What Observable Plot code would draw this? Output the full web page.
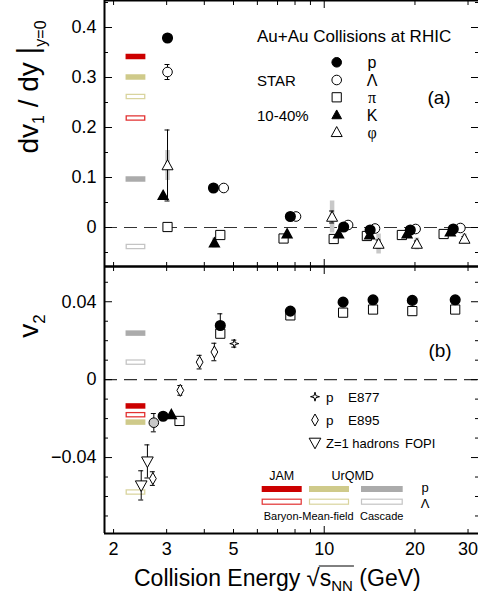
<!DOCTYPE html>
<html><head><meta charset="utf-8">
<script src="https://cdn.jsdelivr.net/npm/d3@7"></script>
<script src="https://cdn.jsdelivr.net/npm/@observablehq/plot@0.6"></script>
<style>
body{margin:0;background:#fff;}
#wrap{position:relative;width:478px;height:602px;overflow:hidden;background:#fff;}
#wrap svg{position:absolute;left:0;}
</style></head><body><div id="wrap"></div>
<script>
// ---------------- DATA ----------------
// Panel (a): dv1/dy at y=0, STAR 10-40%
const v1_p_x   = [3.02, 4.29, 7.72, 11.6, 14.2, 19.3, 26.8];
const v1_p_y   = [0.379, 0.079, 0.022, 0.001, -0.005, -0.005, -0.003];
const v1_L_x   = [3.02, 4.64, 8.06, 12.0, 14.74, 20.1, 28.3];
const v1_L_y   = [0.311, 0.079, 0.022, 0.005, -0.002, -0.003, -0.001];
const v1_L_err = [0.015, 0, 0, 0, 0, 0, 0];
const v1_pi_x  = [3.02, 4.52, 7.33, 10.75, 13.85, 18.1, 24.9];
const v1_pi_y  = [0.001, -0.015, -0.022, -0.023, -0.017, -0.015, -0.013];
const v1_K_x   = [2.92, 4.32, 7.53, 11.16, 14.15, 18.83, 26.2];
const v1_K_y   = [0.064, -0.031, -0.013, -0.013, -0.015, -0.013, -0.009];
const v1_K_sys = [0, 0.01, 0, 0, 0, 0, 0];
const v1_phi_x   = [3.02, 10.62, 15.15, 20.3, 29.2];
const v1_phi_y   = [0.124, 0.021, -0.033, -0.033, -0.023];
const v1_phi_err = [0.071, 0.012, 0.008, 0.006, 0.005];
const v1_phi_sys = [0.03, 0.032, 0.02, 0.012, 0.01];
// model values
const modelNames   = ["JAM p", "UrQMD p", "UrQMD Λ", "JAM Λ", "Cascade p", "Cascade Λ"];
const modelKind    = ["JAM", "UrQMD", "UrQMD", "JAM", "Cascade", "Cascade"];
const modelOpen    = [false, false, true, true, false, true];
const v1_model     = [0.342, 0.301, 0.262, 0.219, 0.097, -0.038];
const v2_model     = [-0.0135, -0.0218, -0.0577, -0.018, 0.0239, 0.009];

// Panel (b): v2
const v2_p_x   = [2.92, 4.52, 7.72, 11.55, 14.52, 19.6, 27.2];
const v2_p_y   = [-0.0188, 0.0278, 0.0352, 0.0398, 0.041, 0.0407, 0.041];
const v2_p_err = [0, 0.006, 0, 0, 0, 0, 0];
const v2_L_x   = [2.72];
const v2_L_y   = [-0.0221];
const v2_L_err = [0.0047];
const v2_K_x   = [3.11];
const v2_K_y   = [-0.018];
const v2_pi_x  = [3.31, 4.52, 7.72, 11.55, 14.52, 19.6, 27.2];
const v2_pi_y  = [-0.0212, 0.0236, 0.033, 0.0344, 0.036, 0.0352, 0.036];
const e877_x   = [5.03];
const e877_y   = [0.0185];
const e877_err = [0.0018];
const e895_x   = [2.70, 3.33, 3.86, 4.32];
const e895_y   = [-0.0508, -0.0055, 0.009, 0.0142];
const e895_err = [0.0035, 0.0025, 0.0035, 0.0045];
const fopi_x   = [2.47, 2.59];
const fopi_y   = [-0.0543, -0.042];
const fopi_err = [0.0075, 0.0085];

// ticks
const xTickSmall = [2, 3, 4, 5, 6, 7, 8, 9, 20, 30];
const xTickBig   = [10];
const xTickLabels = [2, 3, 5, 10, 20, 30];
const yTopMajor = [0, 0.1, 0.2, 0.3, 0.4];
const yTopMinor = [-0.05, 0.05, 0.15, 0.25, 0.35, 0.45];
const yBotMajor = [-0.04, 0, 0.04];
const yBotMinor = [-0.07, -0.06, -0.05, -0.03, -0.02, -0.01, 0.01, 0.02, 0.03, 0.05];

// ---------------- STYLE ----------------
const xDomain = [1.866, 32.5];
const modelSpan = [2.2, 2.56];
const fontFam = '"Liberation Sans", Arial, Helvetica, sans-serif';
const colors = {JAM: "#cc0000", UrQMD: "#cfca8a", Cascade: "#ababab"};
const openColors = {JAM: "#e23030", UrQMD: "#d9d49e", Cascade: "#c4c4c4"};
const sysGray = "#c8c8c8";

const rows = (xs, ys, es, ss) => xs.map((x, i) => ({x, y: ys[i], e: es ? es[i] : 0, s: ss ? ss[i] : 0}));
const mk = f => ({draw(ctx, size) { const r = Math.sqrt(size / Math.PI); f(ctx, r); }});
const symSquare = mk((c, r) => { c.moveTo(-r, -r); c.lineTo(r, -r); c.lineTo(r, r); c.lineTo(-r, r); c.closePath(); });
const symTriUp = mk((c, r) => { c.moveTo(0, -1.15 * r); c.lineTo(1.1 * r, 0.85 * r); c.lineTo(-1.1 * r, 0.85 * r); c.closePath(); });
const symTriDown = mk((c, r) => { c.moveTo(0, 1.15 * r); c.lineTo(1.1 * r, -0.85 * r); c.lineTo(-1.1 * r, -0.85 * r); c.closePath(); });
const symDiamond = mk((c, r) => { c.moveTo(0, -1.5 * r); c.lineTo(0.85 * r, 0); c.lineTo(0, 1.5 * r); c.lineTo(-0.85 * r, 0); c.closePath(); });
const symStar4 = mk((c, r) => { const a = 1.5 * r, b = 0.32 * r; c.moveTo(0, -a); c.lineTo(b, -b); c.lineTo(a, 0); c.lineTo(b, b); c.lineTo(0, a); c.lineTo(-b, b); c.lineTo(-a, 0); c.lineTo(-b, -b); c.closePath(); });
const symCircle = d3.symbolCircle;

const none = () => "";
function frameMarks(yDomain, yMajor, yMinor, yFmt, withLabels) {
  const m = [
    Plot.ruleY([0], {stroke: "#333", strokeWidth: 1.1, strokeDasharray: "13,7"}),
    Plot.axisY({ticks: yMajor, anchor: "left", tickSize: -8, tickFormat: none, label: null}),
    Plot.axisY({ticks: yMinor, anchor: "left", tickSize: -4, tickFormat: none, label: null}),
    Plot.axisY({ticks: yMajor, anchor: "right", tickSize: -8, tickFormat: none, label: null}),
    Plot.axisY({ticks: yMinor, anchor: "right", tickSize: -4, tickFormat: none, label: null}),
    Plot.axisY({ticks: yMajor, anchor: "left", tickSize: 0, tickPadding: 8, tickFormat: yFmt, label: null, fontSize: 18}),
    Plot.axisX({ticks: xTickSmall, anchor: "top", tickSize: -4, tickFormat: none, label: null}),
    Plot.axisX({ticks: xTickBig, anchor: "top", tickSize: -7, tickFormat: none, label: null}),
    Plot.axisX({ticks: xTickSmall, anchor: "bottom", tickSize: -4, tickFormat: none, label: null}),
    Plot.axisX({ticks: xTickBig, anchor: "bottom", tickSize: -7, tickFormat: none, label: null}),
    Plot.ruleX([xDomain[0]], {strokeWidth: 2}),
    Plot.ruleY([yDomain[0]], {strokeWidth: 2}),
    Plot.ruleY([yDomain[1]], {strokeWidth: 2})
  ];
  if (withLabels) m.push(Plot.axisX({ticks: xTickLabels, anchor: "bottom", tickSize: 0, tickPadding: 9, tickFormat: d => String(d), label: null, fontSize: 18}));
  return m;
}
function modelMarks(vals) {
  const d = vals.map((y, i) => ({y, kind: modelKind[i], open: modelOpen[i]}));
  return [
    Plot.ruleY(d, {y: "y", x1: modelSpan[0], x2: modelSpan[1], stroke: r => r.open ? openColors[r.kind] : colors[r.kind], strokeWidth: 5.5}),
    Plot.ruleY(d.filter(r => r.open), {y: "y", x1: modelSpan[0], x2: modelSpan[1], stroke: "white", strokeWidth: 3, insetLeft: 1.3, insetRight: 1.3})
  ];
}
function errMarks(data, color = "black") {
  const d = data.filter(r => r.e > 0);
  const caps = d.flatMap(r => [{x: r.x, y: r.y - r.e}, {x: r.x, y: r.y + r.e}]);
  return [
    Plot.ruleX(d, {x: "x", y1: r => r.y - r.e, y2: r => r.y + r.e, stroke: color, strokeWidth: 1}),
    Plot.ruleY(caps, {y: "y", x1: "x", x2: "x", insetLeft: -2.5, insetRight: -2.5, stroke: color, strokeWidth: 1})
  ];
}
function sysMarks(data) {
  const d = data.filter(r => r.s > 0);
  return [Plot.ruleX(d, {x: "x", y1: r => r.y - r.s, y2: r => r.y + r.s, stroke: sysGray, strokeWidth: 4.5})];
}
const baseStyle = {background: "transparent", fontFamily: fontFam, overflow: "visible", color: "black"};

// ---------------- PANEL (a) ----------------
const topY = [-0.078, 0.454];
const aP = rows(v1_p_x, v1_p_y), aL = rows(v1_L_x, v1_L_y, v1_L_err), aPi = rows(v1_pi_x, v1_pi_y);
const aK = rows(v1_K_x, v1_K_y, null, v1_K_sys), aPhi = rows(v1_phi_x, v1_phi_y, v1_phi_err, v1_phi_sys);
const plotA = Plot.plot({
  width: 478, height: 268, marginLeft: 104, marginRight: 0, marginTop: 0, marginBottom: 2,
  style: baseStyle,
  x: {type: "log", domain: xDomain},
  y: {domain: topY},
  marks: [
    ...frameMarks(topY, yTopMajor, yTopMinor, d => d === 0 ? "0" : d.toFixed(1), false),
    ...modelMarks(v1_model),
    ...sysMarks(aPhi), ...sysMarks(aK),
    ...errMarks(aPhi), ...errMarks(aL),
    Plot.dot(aPi, {x: "x", y: "y", symbol: symSquare, r: 4.6, fill: "white", stroke: "black", strokeWidth: 1}),
    Plot.dot(aK, {x: "x", y: "y", symbol: symTriUp, r: 4.4, fill: "black", stroke: "black"}),
    Plot.dot(aPhi, {x: "x", y: "y", symbol: symTriUp, r: 5, fill: "white", stroke: "black", strokeWidth: 1}),
    Plot.dot(aL, {x: "x", y: "y", symbol: symCircle, r: 4.8, fill: "white", stroke: "black", strokeWidth: 1}),
    Plot.dot(aP, {x: "x", y: "y", symbol: symCircle, r: 4.8, fill: "black", stroke: "black"})
  ]
});
plotA.style.top = "0px";

// ---------------- PANEL (b) ----------------
const botY = [-0.079, 0.0581];
const bP = rows(v2_p_x, v2_p_y, v2_p_err), bL = rows(v2_L_x, v2_L_y, v2_L_err), bK = rows(v2_K_x, v2_K_y), bPi = rows(v2_pi_x, v2_pi_y);
const bE877 = rows(e877_x, e877_y, e877_err), bE895 = rows(e895_x, e895_y, e895_err), bFopi = rows(fopi_x, fopi_y, fopi_err);
const plotB = Plot.plot({
  width: 478, height: 336, marginLeft: 104, marginRight: 0, marginTop: 0, marginBottom: 69,
  style: baseStyle,
  x: {type: "log", domain: xDomain},
  y: {domain: botY},
  marks: [
    ...frameMarks(botY, yBotMajor, yBotMinor, d => d === 0 ? "0" : (d < 0 ? "\u2212" : "") + Math.abs(d).toFixed(2), true),
    ...modelMarks(v2_model),
    ...errMarks(bP), ...errMarks(bL), ...errMarks(bE877), ...errMarks(bE895), ...errMarks(bFopi),
    Plot.dot(bFopi, {x: "x", y: "y", symbol: symTriDown, r: 5.3, fill: "white", stroke: "black", strokeWidth: 1}),
    Plot.dot(bE895, {x: "x", y: "y", symbol: symDiamond, r: 4, fill: "white", stroke: "black", strokeWidth: 1}),
    Plot.dot(bE877, {x: "x", y: "y", symbol: symStar4, r: 3, fill: "white", stroke: "black", strokeWidth: 1}),
    Plot.dot(bPi, {x: "x", y: "y", symbol: symSquare, r: 4.6, fill: "white", stroke: "black", strokeWidth: 1}),
    Plot.dot(bK, {x: "x", y: "y", symbol: symTriUp, r: 4.4, fill: "black", stroke: "black"}),
    Plot.dot(bL, {x: "x", y: "y", symbol: symCircle, r: 4.8, fill: "#c8c8c8", stroke: "black", strokeWidth: 1}),
    Plot.dot(bP, {x: "x", y: "y", symbol: symCircle, r: 4.8, fill: "black", stroke: "black"})
  ]
});
plotB.style.top = "266px";

const wrap = document.getElementById("wrap");
wrap.append(plotA, plotB);

// ---------------- ANNOTATIONS / LEGENDS ----------------
const ov = d3.select(wrap).append("svg").attr("width", 478).attr("height", 602)
  .style("top", "0px").style("font-family", fontFam).style("pointer-events", "none");
function txt(x, y, s, size, anchor = "start", fam = null) {
  const t = ov.append("text").attr("x", x).attr("y", y).attr("font-size", size).attr("text-anchor", anchor).text(s);
  if (fam) t.attr("font-family", fam);
  return t;
}
function sym(x, y, s, r, fill, stroke = "black") {
  const p = d3.path(); s.draw(p, r * r * Math.PI);
  ov.append("path").attr("d", p.toString()).attr("transform", `translate(${x},${y})`).attr("fill", fill).attr("stroke", stroke).attr("stroke-width", 1);
}
// panel (a) legend
txt(257, 42, "Au+Au Collisions at RHIC", 17);
txt(257, 86, "STAR", 15);
txt(257, 121, "10-40%", 15);
const legA = [
  {s: symCircle, f: "black", lab: "p", r: 4.8},
  {s: symCircle, f: "white", lab: "Λ", r: 4.8},
  {s: symSquare, f: "white", lab: "π", r: 4.6},
  {s: symTriUp, f: "black", lab: "K", r: 4.4},
  {s: symTriUp, f: "white", lab: "φ", r: 5}
];
const legAy = [62.3, 80, 97.3, 115, 132.3];
legA.forEach((d, i) => {
  sym(336.7, legAy[i], d.s, d.r, d.f);
  txt(372, legAy[i] + 5.5, d.lab, 16, "middle", (d.lab === "π" || d.lab === "φ") ? '"Liberation Serif", serif' : null);
});
txt(439, 104, "(a)", 19, "middle");
txt(440, 357, "(b)", 19, "middle");

// panel (b) legend: experiments
sym(315, 396.7, symStar4, 3, "white");
txt(326, 401.5, "p", 13.5); txt(348, 401.5, "E877", 13.5);
sym(315, 420, symDiamond, 4, "white");
txt(326, 425, "p", 13.5); txt(348, 425, "E895", 13.5);
sym(315, 442.7, symTriDown, 5.3, "white");
txt(326, 447.5, "Z=1 hadrons", 13); txt(405, 447.5, "FOPI", 13);

// model legend
txt(281.7, 480, "JAM", 12.5, "middle");
txt(352.7, 480, "UrQMD", 12.5, "middle");
const legCols = [["JAM", 261.7, 301.7], ["UrQMD", 309, 349], ["Cascade", 361, 402.7]];
legCols.forEach(([k, x1, x2]) => {
  ov.append("rect").attr("x", x1).attr("y", 486).attr("width", x2 - x1).attr("height", 6).attr("fill", colors[k]);
  ov.append("rect").attr("x", x1 + 0.5).attr("y", 499.2).attr("width", x2 - x1 - 1).attr("height", 5).attr("fill", "white").attr("stroke", openColors[k]).attr("stroke-width", 1.2);
});
txt(425, 492, "p", 13, "middle");
txt(425, 507.5, "Λ", 13, "middle");
txt(308.7, 520, "Baryon-Mean-field", 11, "middle");
txt(381.7, 520, "Cascade", 11, "middle");

// axis titles
const t1 = ov.append("text").attr("transform", "translate(38,87) rotate(-90)").attr("text-anchor", "middle").attr("font-size", 28);
t1.append("tspan").text("dv");
t1.append("tspan").attr("font-size", 16).attr("dy", 6).text("1");
t1.append("tspan").attr("dy", -6).text(" / dy ");
t1.append("tspan").attr("font-size", 30).text("|");
t1.append("tspan").attr("font-size", 16).attr("dy", 8).text("y=0");

const t2 = ov.append("text").attr("transform", "translate(38,326) rotate(-90)").attr("text-anchor", "middle").attr("font-size", 28);
t2.append("tspan").text("v");
t2.append("tspan").attr("font-size", 17).attr("dy", 7).text("2");

const xl = ov.append("text").attr("x", 134).attr("y", 586).attr("text-anchor", "start").attr("font-size", 23);
xl.append("tspan").text("Collision Energy ");
xl.append("tspan").attr("font-size", 24).text("\u221A");
xl.append("tspan").text("s");
xl.append("tspan").attr("font-size", 15).attr("dy", 5).text("NN");
xl.append("tspan").attr("dy", -5).text(" (GeV)");
const xn = xl.node();
const full = xn.textContent;
const iR = full.indexOf("\u221A");
try {
  const rEnd = xn.getEndPositionOfChar(iR);
  const nEnd = xn.getEndPositionOfChar(iR + 3);
  ov.append("line").attr("x1", rEnd.x - 1).attr("x2", nEnd.x + 1).attr("y1", 566).attr("y2", 566).attr("stroke", "black").attr("stroke-width", 1);
} catch (e) {}
</script></body></html>
